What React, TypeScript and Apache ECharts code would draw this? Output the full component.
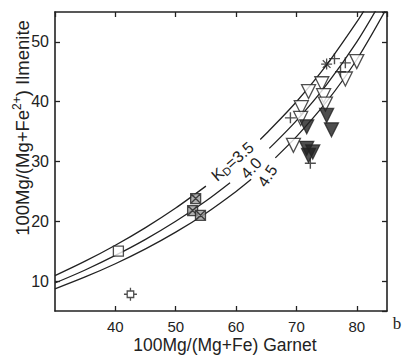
import React, { useEffect, useRef } from "react";
import * as echarts from "echarts";

// K_D isopleths (x: 100Mg/(Mg+Fe) garnet, y: 100Mg/(Mg+Fe2+) ilmenite); split where labels sit
const kd35Lower = [[30, 10.91], [35, 13.33], [40, 16.0], [45, 18.95], [50, 22.22], [55, 25.88]];
const kd35Upper = [[64, 33.68], [65, 34.67], [70, 40.0], [75, 46.15], [80, 53.33], [82, 56.55]];
const kd40Lower = [[30, 9.68], [35, 11.86], [40, 14.29], [45, 16.98], [50, 20.0], [55, 23.4], [59, 26.46]];
const kd40Upper = [[65.5, 32.19], [70, 36.84], [75, 42.86], [80, 50.0], [84, 56.76]];
const kd45Lower = [[30, 8.7], [35, 10.69], [40, 12.9], [45, 15.38], [50, 18.18], [55, 21.36], [60, 25.0], [62.5, 27.03]];
const kd45Upper = [[66.5, 30.61], [70, 34.15], [75, 40.0], [80, 47.06], [85, 55.74]];

// curve label anchors: [x, y, rotation]
const labelKd35 = [59.4, 30.0, 41];
const labelKd40 = [62.5, 28.9, 47];
const labelKd45 = [65.2, 27.6, 56];

// samples
const openSquares = [[40.5, 15.0]];
const tickSquares = [[42.5, 7.8]];
const crossSquares = [[53.3, 23.8], [52.8, 21.8], [54.1, 21.0]];
const openTriangles = [
  [80.0, 46.7], [78.1, 43.8], [74.2, 43.0], [72.0, 41.7], [74.5, 41.0],
  [74.8, 39.6], [70.8, 39.0], [70.7, 37.2], [69.5, 32.7],
];
const filledTriangles = [[75.0, 37.7], [71.7, 35.8], [75.8, 35.3], [71.7, 32.2], [72.0, 31.0], [72.7, 31.6]];
const plusMarks = [[76.3, 47.2], [78.1, 46.5], [77.3, 45.0], [69.0, 37.3], [72.3, 29.7]];
const starMarks = [[75.0, 46.3]];

const xTicks = [40, 50, 60, 70, 80];
const yTicks = [10, 20, 30, 40, 50];

const INK = "#222";
const FONT = "Liberation Sans, Arial, sans-serif";

export default function App() {
  const ref = useRef<HTMLDivElement>(null);
  useEffect(() => {
    if (!ref.current) return;
    const chart = echarts.init(ref.current, null, { renderer: "svg" });
    const curveLine = (data: number[][]) => ({
      type: "line",
      data,
      smooth: 0.3,
      showSymbol: false,
      symbol: "none",
      lineStyle: { color: INK, width: 1.3 },
      silent: true,
      z: 2,
    });
    const curveLabel = (lab: number[], fmt: string) => ({
      symbol: "circle",
      symbolSize: 0,
      silent: true,
      data: [
        {
          coord: [lab[0], lab[1]],
          label: {
            show: true,
            position: "inside",
            rotate: lab[2],
            formatter: fmt,
            color: INK,
            fontFamily: FONT,
            fontSize: 16,
            rich: {
              k: { fontSize: 16, fontFamily: FONT, color: INK, lineHeight: 18 },
              d: { fontSize: 11, fontFamily: FONT, color: INK, verticalAlign: "bottom", lineHeight: 18, padding: [6, 0, 0, 0] },
            },
          },
        },
      ],
    });
    const tickFmt = (ticks: number[]) => (v: number) => (ticks.indexOf(v) >= 0 ? String(v) : "");
    const scatter = (data: number[][], symbol: string, size: number, fill: string, rotate = 0, bw = 1.3) => ({
      type: "scatter",
      data,
      symbol,
      symbolSize: size,
      symbolRotate: rotate,
      itemStyle: { color: fill, borderColor: INK, borderWidth: bw },
      z: 5,
    });
    const axisCommon = {
      axisLine: { show: true, onZero: false, lineStyle: { color: INK, width: 1.6 } },
      axisTick: { show: true, inside: true, length: 5, lineStyle: { color: INK, width: 1.3 } },
      splitLine: { show: false },
    };
    chart.setOption({
      animation: false,
      backgroundColor: "#ffffff",
      grid: { left: 55, right: 20, top: 12, bottom: 48, containLabel: false },
      xAxis: [
        {
          type: "value",
          min: 30,
          max: 85,
          splitNumber: 5,
          position: "bottom",
          ...axisCommon,
          axisLabel: {
            color: INK,
            fontFamily: FONT,
            fontSize: 15,
            lineHeight: 16,
            margin: 7,
            showMinLabel: false,
            showMaxLabel: false,
            formatter: tickFmt(xTicks),
          },
        },
        {
          type: "value",
          min: 30,
          max: 85,
          splitNumber: 5,
          position: "top",
          ...axisCommon,
          axisLabel: { show: false },
        },
      ],
      yAxis: [
        {
          type: "value",
          min: 5,
          max: 55,
          splitNumber: 5,
          position: "left",
          ...axisCommon,
          axisLabel: {
            color: INK,
            fontFamily: FONT,
            fontSize: 16,
            margin: 6,
            showMinLabel: false,
            showMaxLabel: false,
            formatter: tickFmt(yTicks),
          },
        },
        {
          type: "value",
          min: 5,
          max: 55,
          splitNumber: 5,
          position: "right",
          ...axisCommon,
          axisLabel: { show: false },
        },
      ],
      graphic: [
        {
          type: "text",
          x: 225,
          y: 345,
          style: {
            text: "100Mg/(Mg+Fe) Garnet",
            font: `17.5px ${FONT}`,
            fill: INK,
            textAlign: "center",
            textVerticalAlign: "middle",
          },
        },
        {
          type: "text",
          x: 22,
          y: 128,
          rotation: Math.PI / 2,
          style: {
            text: "{n|100Mg/(Mg+Fe}{s|2+}{n|)}{n| Ilmenite}",
            fill: INK,
            textAlign: "center",
            textVerticalAlign: "middle",
            rich: {
              n: { fontSize: 18.5, fontFamily: FONT, fill: INK, lineHeight: 22 },
              s: { fontSize: 12, fontFamily: FONT, fill: INK, verticalAlign: "top", lineHeight: 22 },
            },
          },
        },
        {
          type: "text",
          x: 397,
          y: 323,
          style: {
            text: "b",
            font: `17px "Liberation Serif", serif`,
            fill: INK,
            textAlign: "center",
            textVerticalAlign: "middle",
          },
        },
      ],
      series: [
        { ...curveLine(kd35Lower), name: "KD 3.5 lower" },
        { ...curveLine(kd35Upper), name: "KD 3.5", markPoint: curveLabel(labelKd35, "{k|K}{d|D}{k|=3.5}") },
        { ...curveLine(kd40Lower), name: "KD 4.0 lower" },
        { ...curveLine(kd40Upper), name: "KD 4.0", markPoint: curveLabel(labelKd40, "{k|4.0}") },
        { ...curveLine(kd45Lower), name: "KD 4.5 lower" },
        { ...curveLine(kd45Upper), name: "KD 4.5", markPoint: curveLabel(labelKd45, "{k|4.5}") },
        scatter(openSquares, "rect", 10, "#ffffff"),
        scatter(
          tickSquares,
          "path://M3,3L9,3L9,9L3,9Z M6,0L6,3 M6,9L6,12 M0,6L3,6 M9,6L12,6",
          13,
          "#ffffff"
        ),
        scatter(crossSquares, "path://M0,0L10,0L10,10L0,10Z M0,0L10,10 M10,0L0,10", 10, "#9a9a9a"),
        scatter(openTriangles, "triangle", 14, "#ffffff", 180),
        scatter(filledTriangles, "triangle", 14, INK, 180),
        scatter(plusMarks, "path://M5,0L5,10M0,5L10,5", 11, "transparent", 0, 1.4),
        scatter(starMarks, "path://M5,0L5,10M0,5L10,5M1.5,1.5L8.5,8.5M8.5,1.5L1.5,8.5", 11, "transparent", 0, 1.3),
      ],
    });
    return () => chart.dispose();
  }, []);
  return (
    <div
      ref={ref}
      style={{ position: "fixed", left: 0, top: 0, width: 407, height: 359, background: "#fff" }}
    />
  );
}
